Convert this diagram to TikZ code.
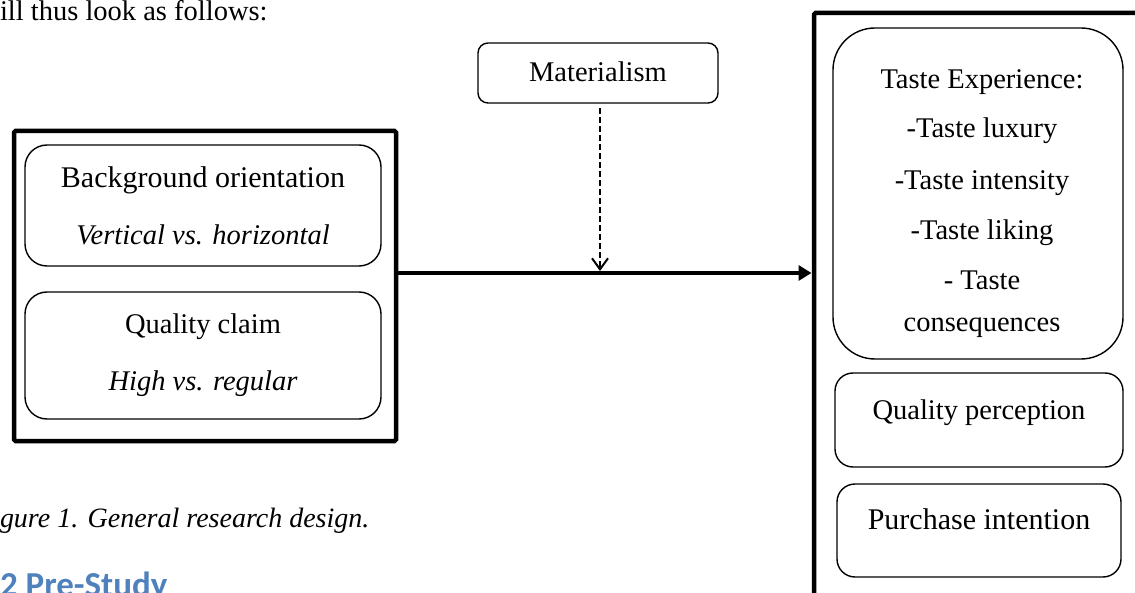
\documentclass[tikz,border=0pt]{standalone}
\usepackage{fontspec}
\setmainfont{Liberation Serif}
\newfontfamily\headfont{Carlito}
\usetikzlibrary{arrows.meta}
\definecolor{headblue}{RGB}{79,129,189}
\begin{document}
\begin{tikzpicture}[x=1pt,y=-1pt,
  every node/.style={inner sep=0pt, outer sep=0pt},
  txt/.style={anchor=base, font=\fontsize{28.5}{32}\selectfont},
  itxt/.style={anchor=base, font=\fontsize{28.5}{32}\selectfont\itshape},
  outerbox/.style={draw, line width=4.5pt, rounded corners=1.5pt},
  innerbox/.style={draw, line width=1.4pt, rounded corners=#1},
  innerbox/.default=20pt,
  mainarrow/.style={line width=4pt, -{Triangle[length=13pt,width=15pt]}},
  modarrow/.style={line width=2pt, dash pattern=on 6pt off 3pt, -{Straight Barb[length=11pt,width=16pt,line width=2pt]}}
]
\clip (0,0) rectangle (1135,593);
% page text
\node[txt, anchor=base west] (lead) at (0,21) {ill thus look as follows:};
\node[anchor=base west, font=\fontsize{28}{32}\selectfont\itshape] (cap) at (0,527) {gure 1. General research design.};
\node[anchor=base west, font=\headfont\bfseries\fontsize{35}{38}\selectfont, text=headblue] (head) at (0,596) {2 Pre-Study};

% left block
\node[outerbox, minimum width=382pt, minimum height=310pt] (ob) at (205,286) {};
\node[innerbox=22pt, minimum width=356pt, minimum height=121pt] (bo) at (203,205.5) {};
\node[txt, font=\fontsize{30}{32}\selectfont] (bot) at (203,188) {Background orientation};
\node[itxt] (boi) at (203,245) {Vertical vs. horizontal};
\node[innerbox=22pt, minimum width=356pt, minimum height=127pt] (qc) at (203,355.5) {};
\node[txt] (qct) at (203,334) {Quality claim};
\node[itxt] (qci) at (203,391) {High vs. regular};

% moderator
\node[innerbox=10pt, minimum width=240pt, minimum height=60pt] (mat) at (598,73) {};
\node[txt] (matt) at (598,82) {Materialism};

% right block
\node[outerbox, minimum width=336pt, minimum height=597pt] (ro) at (982,311.5) {};
\node[innerbox=42pt, minimum width=290pt, minimum height=331pt] (te) at (978,193.5) {};
\node[txt] (te1) at (982,89) {Taste Experience:};
\node[txt] (te2) at (982,138) {-Taste luxury};
\node[txt] (te3) at (982,190) {-Taste intensity};
\node[txt] (te4) at (982,240) {-Taste liking};
\node[txt] (te5) at (982,290) {- Taste};
\node[txt] (te6) at (982,332) {consequences};
\node[innerbox=18pt, minimum width=288pt, minimum height=94pt] (qp) at (979,420) {};
\node[txt] (qpt) at (979,419) {Quality perception};
\node[innerbox=18pt, minimum width=284pt, minimum height=93pt] (pi) at (979,530.5) {};
\node[txt, font=\fontsize{30}{32}\selectfont] (pit) at (979,529) {Purchase intention};

% connectors
\coordinate (mid) at (600,273);
\draw[mainarrow, shorten >=2.5pt] (ob.east |- mid) -- (ro.west |- mid);
\draw[modarrow, shorten <=5pt, shorten >=2pt] (mid |- mat.south) -- (mid);
\end{tikzpicture}
\end{document}
